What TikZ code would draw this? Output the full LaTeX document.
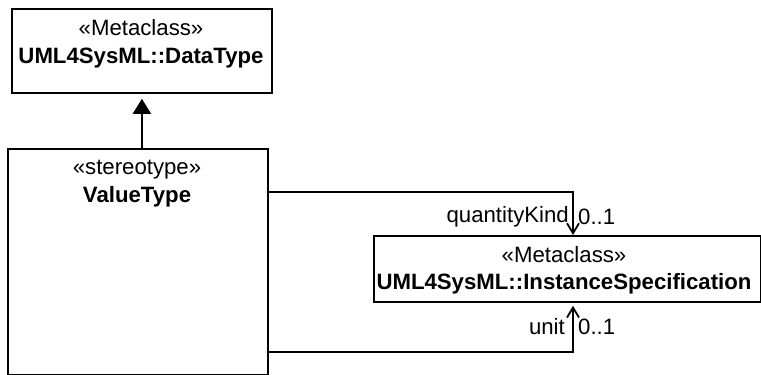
\documentclass[tikz,border=0pt]{standalone}
\usepackage{fontspec}
\setmainfont{Liberation Sans}
\usetikzlibrary{arrows.meta}
\begin{document}
\begin{tikzpicture}[x=1pt,y=-1pt,
  box/.style={draw=black,line width=1.8pt,rectangle,inner sep=0pt,anchor=north west},
  txt/.style={inner sep=0pt,font=\fontsize{22.2}{24}\selectfont},
  btxt/.style={inner sep=0pt,font=\fontsize{22.2}{24}\selectfont\bfseries},
  conn/.style={line width=1.8pt},
  gen/.style={conn,-{Triangle[length=15pt,width=18pt]},shorten >=5pt},
  assoc/.style={conn,-{Straight Barb[length=10pt,width=12pt,line width=1.8pt]}}]
\useasboundingbox (0,0) rectangle (761,375);
% boxes
\node[box,minimum width=260pt,minimum height=84pt] (dt) at (11,8) {};
\node[box,minimum width=260pt,minimum height=226pt] (vt) at (7,148) {};
\node[box,minimum width=387pt,minimum height=66pt] (is) at (373,235) {};
% texts
\node[txt] (dts) at (141,28) {«Metaclass»};
\node[btxt] (dtn) at (141,58) {UML4SysML::DataType};
\node[txt] (vts) at (137,170) {«stereotype»};
\node[btxt] (vtn) at (137,197) {ValueType};
\node[txt] (iss) at (564,255) {«Metaclass»};
\node[btxt] (isn) at (564,284) {UML4SysML::InstanceSpecification};
% connectors
\draw[gen] (vt.north -| dt.south) -- (dt.south);
\coordinate (q) at (573,192);
\coordinate (u) at (573,352);
\draw[assoc] (vt.east |- q) -| (is.north -| q);
\draw[assoc,shorten >=3pt] (vt.east |- u) -| (is.south -| u);
% labels
\node[txt,anchor=east] (qk) at (569,217) {quantityKind};
\node[txt,anchor=west] (qm) at (578,217) {0..1};
\node[txt,anchor=east] (un) at (565,327) {unit};
\node[txt,anchor=west] (um) at (578,327) {0..1};
\end{tikzpicture}
\end{document}
